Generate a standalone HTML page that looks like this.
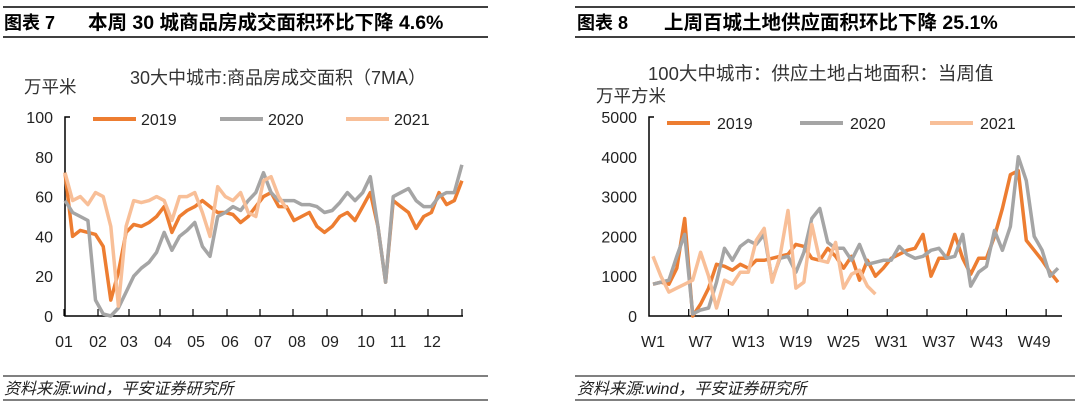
<!DOCTYPE html>
<html><head><meta charset="utf-8">
<style>
body{margin:0;background:#fff;}
svg{display:block;font-family:"Liberation Sans","Noto Sans CJK SC",sans-serif;}
</style></head>
<body>
<svg id="root" width="1080" height="405" viewBox="0 0 1080 405" xmlns="http://www.w3.org/2000/svg">
<g>
  <line x1="3" y1="7" x2="488" y2="7" stroke="#000" stroke-width="1.5"/>
  <text x="4" y="29" font-size="18" font-weight="bold" fill="#000">图表 7</text>
  <text x="88" y="29" font-size="19.5" font-weight="bold" fill="#000">本周 30 城商品房成交面积环比下降 4.6%</text>
  <line x1="3" y1="37" x2="488" y2="37" stroke="#000" stroke-width="1.5"/>
  <text x="278" y="84" font-size="18" text-anchor="middle" fill="#333">30大中城市:商品房成交面积（7MA）</text>
  <text x="24" y="93" font-size="17.5" fill="#333">万平米</text>
  <g id="leftPlot"></g>
  <line x1="3" y1="376" x2="488" y2="376" stroke="#000" stroke-width="1"/>
  <text x="4" y="394" font-size="16" font-style="italic" fill="#222">资料来源:wind，平安证券研究所</text>
  <line x1="3" y1="400" x2="488" y2="400" stroke="#000" stroke-width="1"/>
</g>
<g>
  <line x1="575" y1="7" x2="1075" y2="7" stroke="#000" stroke-width="1.5"/>
  <text x="577" y="29" font-size="18" font-weight="bold" fill="#000">图表 8</text>
  <text x="664" y="29" font-size="19.5" font-weight="bold" fill="#000">上周百城土地供应面积环比下降 25.1%</text>
  <line x1="575" y1="37" x2="1075" y2="37" stroke="#000" stroke-width="1.5"/>
  <text x="648" y="80" font-size="18.5" fill="#333">100大中城市：供应土地占地面积：当周值</text>
  <text x="596" y="102" font-size="17.5" fill="#333">万平方米</text>
  <g id="rightPlot"></g>
  <line x1="575" y1="376" x2="1075" y2="376" stroke="#000" stroke-width="1"/>
  <text x="577" y="394" font-size="16" font-style="italic" fill="#222">资料来源:wind，平安证券研究所</text>
  <line x1="575" y1="400" x2="1075" y2="400" stroke="#000" stroke-width="1"/>
</g>
</svg>
<script>
// ---- Left chart data (weekly samples of 7MA) ----
const leftMonths = ["01","02","03","04","05","06","07","08","09","10","11","12"];
const leftMonthPos = [64,98,129,163,196,230,263,297,330,366,398,432];
const leftYTicks = [0,20,40,60,80,100];
const leftSeriesNames = ["2019","2020","2021"];
const left2019 = [72,40,43,42,41,35,8,22,42,46,45,47,50,55,42,50,53,55,58,55,52,52,51,47,50,55,60,62,55,55,48,50,52,45,42,45,50,52,48,55,62,45,17,58,55,52,44,50,52,62,56,58,68];
const left2020 = [58,52,50,48,8,1,0,4,12,20,24,27,32,42,33,40,43,47,35,30,50,52,55,53,58,62,72,62,58,58,58,56,56,55,52,53,57,62,58,62,70,45,17,60,62,64,58,55,55,60,62,62,76];
const left2021 = [72,58,60,56,62,60,45,5,45,58,57,58,60,58,48,60,60,62,52,40,65,60,58,62,52,50,68,70,60,54];
// ---- Right chart data (weekly) ----
const rightWeekLabels = ["W1","W7","W13","W19","W25","W31","W37","W43","W49"];
const rightYTicks = [0,1000,2000,3000,4000,5000];
const right2019 = [800,850,800,1200,2450,0,300,700,1300,1250,1150,1300,1200,1400,1400,1450,1500,1550,1800,1750,1450,1400,1700,1500,1200,1500,900,1400,1000,1200,1450,1550,1650,1700,2050,1000,1450,1450,2050,1450,1050,1450,1450,2000,2700,3550,3650,1900,1650,1400,1100,850];
const right2020 = [800,850,900,1500,2050,50,150,200,850,1700,1400,1750,1900,1800,2050,900,1450,1500,1100,1600,2450,2700,1850,1700,1700,1400,1800,1300,1350,1400,1400,1750,1550,1450,1500,1650,1700,1450,1500,2050,750,1100,1250,2150,1650,2250,4000,3400,2000,1650,1000,1200];
const right2021 = [1500,1000,600,700,800,900,1600,1000,200,900,800,1100,1100,1900,2200,850,1500,2650,700,850,2300,1400,1350,1850,700,1050,1150,750,550];

const colors = ["#ED7D31","#A5A5A5","#F8BF98"];
const NS = "http://www.w3.org/2000/svg";
function mk(tag, attrs, parent){const e=document.createElementNS(NS,tag);for(const k in attrs)e.setAttribute(k,attrs[k]);parent.appendChild(e);return e;}

// Left chart
(function(){
  const g = document.getElementById('leftPlot');
  const x0=65, x1=463, yb=316, yt=117;
  const ys = v => yb - (v/100)*(yb-yt);
  const xs = i => x0 + i*7*(x1-x0)/365;
  const ax = mk('path',{d:`M${x0+5},${yt} H${x0} V${yb} H${x1}`,fill:'none',stroke:'#000','stroke-width':1.5},g);
  
  
  leftYTicks.forEach(v=>{
    const t=mk('text',{x:53,y:ys(v)+6,'font-size':16,'text-anchor':'end',fill:'#222'},g);t.textContent=v;
    
    
  });
  const tickX=[64,98,129,160,193,227,260,293,327,362,395,428,462];
  tickX.forEach(x=>{const l=mk('line',{x1:x,x2:x,y1:yb,y2:yb-7,stroke:'#000','stroke-width':1.2},g);
    
    });
  leftMonths.forEach((m,i)=>{
    const t=mk('text',{x:leftMonthPos[i],y:347,'font-size':16,'text-anchor':'middle',fill:'#222'},g);t.textContent=m;
    
    
  });
  [left2019,left2020,left2021].forEach((arr,si)=>{
    const p=mk('polyline',{points:arr.map((v,i)=>xs(i).toFixed(1)+','+ys(v).toFixed(1)).join(' '),fill:'none',stroke:colors[si],'stroke-width':3.5,'stroke-linejoin':'round'},g);
    
    
  });
  const lx=[93,220,346];
  leftSeriesNames.forEach((n,i)=>{
    const l=mk('line',{x1:lx[i],x2:lx[i]+43,y1:119,y2:119,stroke:colors[i],'stroke-width':4},g);
    
    
    const t=mk('text',{x:lx[i]+48,y:125,'font-size':16,fill:'#222'},g);t.textContent=n;
    
    
  });
})();

// Right chart
(function(){
  const g = document.getElementById('rightPlot');
  const x0=649, x1=1062, yb=316, yt=117;
  const ys = v => yb - (v/5000)*(yb-yt);
  const step=(x1-x0)/52;
  const xs = i => x0 + (i+0.5)*step;
  const ax = mk('path',{d:`M${x0+5},${yt} H${x0} V${yb} H${x1}`,fill:'none',stroke:'#000','stroke-width':1.5},g);
  
  
  rightYTicks.forEach(v=>{
    const t=mk('text',{x:637,y:ys(v)+6,'font-size':16,'text-anchor':'end',fill:'#222'},g);t.textContent=v;
    
    
  });
  for(let k=5;k<=52;k+=5){const x=x0+k*step;
    const l=mk('line',{x1:x,x2:x,y1:yb,y2:yb-7,stroke:'#000','stroke-width':1.2},g);
    
    }
  rightWeekLabels.forEach((w,i)=>{
    const t=mk('text',{x:xs(i*6),y:347,'font-size':16,'text-anchor':'middle',fill:'#222'},g);t.textContent=w;
    
    
  });
  [right2019,right2020,right2021].forEach((arr,si)=>{
    const p=mk('polyline',{points:arr.map((v,i)=>xs(i).toFixed(1)+','+ys(v).toFixed(1)).join(' '),fill:'none',stroke:colors[si],'stroke-width':3.5,'stroke-linejoin':'round'},g);
    
    
  });
  const lx=[667,800,930];
  leftSeriesNames.forEach((n,i)=>{
    const l=mk('line',{x1:lx[i],x2:lx[i]+43,y1:123,y2:123,stroke:colors[i],'stroke-width':4},g);
    
    
    const t=mk('text',{x:lx[i]+50,y:129,'font-size':16,fill:'#222'},g);t.textContent=n;
    
    
  });
})();
</script>
</body></html>
